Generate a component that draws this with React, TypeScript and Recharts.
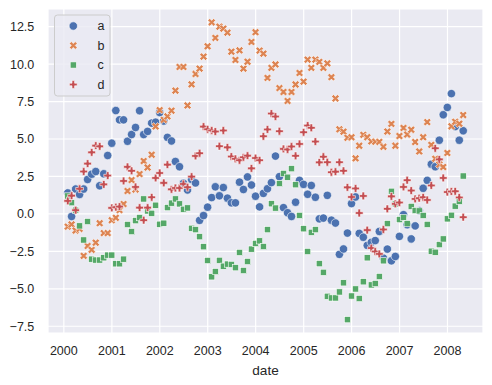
import React from 'react';
import { ScatterChart, Scatter, XAxis, YAxis, CartesianGrid } from 'recharts';

// series names (legend order)
const seriesNames = ['a', 'b', 'c', 'd'];

// monthly values (100 month-ends, Jan 2000 .. Apr 2008)
const aValues = [
  1.4, -0.17, 1.66, 1.3, 1.66, 2.3, 2.65, 2.83, 1.88, 2.68,
  3.9, 4.72, 6.9, 6.28, 6.28, 4.85, 5.3, 5.77, 6.89, 5.3,
  5.51, 6.06, 6.12, 6.77, 6.2, 5.11, 4.87, 3.5, 3.15, 2.05,
  1.6, 2.3, 2.07, -0.43, -0.11, 0.45, 1.09, 1.81, 1.21, 1.76,
  1.05, 0.74, 0.74, 2.12, 1.63, 2.47, 1.93, 1.18, 0.47, 1.37,
  1.68, 2.09, 3.86, 2.49, 0.42, 0.08, -0.17, 0.78, 2.24, 1.97,
  1.31, 1.9, 1.11, -0.33, -0.28, 1.24, -0.42, -0.61, -2.7, -2.34,
  -1.28, 0.69, 1.13, -1.3, -1.56, -2.1, -1.9, -1.78, -1.17, -2.95,
  -2.35, -3.13, -2.84, -1.5, -0.05, -0.72, -1.67, -0.8, 0.22, 1.71,
  2.24, 3.32, 3.15, 4.92, 6.62, 7.11, 8.03, 5.83, 4.92, 5.55,
];
const bValues = [
  -0.85, -0.7, -1.11, -1.0, -2.8, -2.14, -2.4, -1.92, -0.62, -1.28,
  -1.28, -0.42, -0.26, 0.25, 0.66, 1.53, 2.26, 1.63, 2.66, 3.53,
  3.1, 3.95, 5.84, 6.93, 6.28, 6.51, 6.89, 8.23, 9.81, 9.81,
  7.24, 8.65, 9.34, 9.7, 10.5, 11.19, 12.79, 11.75, 12.5, 12.37,
  12.1, 10.83, 10.28, 10.92, 9.7, 10.16, 11.48, 12.13, 10.9, 10.7,
  9.08, 9.75, 9.98, 8.4, 8.14, 7.54, 8.14, 8.64, 9.41, 8.83,
  10.3, 9.75, 10.3, 10.15, 9.75, 10.05, 9.13, 7.71, 5.65, 5.49,
  5.08, 5.12, 3.71, 4.55, 5.28, 5.12, 4.84, 4.82, 4.81, 4.48,
  5.5, 6.01, 4.55, 5.2, 5.74, 5.3, 5.62, 4.8, 4.17, 5.12,
  6.13, 4.61, 3.68, 3.3, 3.13, 4.07, 5.85, 6.15, 6.02, 6.6,
];
const cValues = [
  1.2, 0.75, 0.25, -0.8, -1.74, -0.51, -3.02, -3.08, -3.08, -2.93,
  -2.75, -2.75, -3.33, -3.33, -3.02, -0.71, -1.18, -0.45, -0.25, 1.0,
  0.2, 0.04, 0.58, -0.69, -0.62, 0.42, 0.72, 1.0, 0.67, 0.31,
  0.4, -0.96, -1.05, -1.52, -2.19, -3.11, -4.2, -3.85, -3.1, -3.49,
  -3.35, -3.37, -3.59, -2.57, -3.78, -3.18, -2.35, -1.97, -1.8, -2.18,
  -1.05, 0.68, 0.39, 2.03, 2.7, 2.45, 3.02, 1.95, -0.1, -0.99,
  -2.51, -1.23, -1.05, -3.32, -3.9, -5.5, -5.61, -5.61, -5.21, -4.6,
  -7.06, -5.48, -5.01, -5.65, -4.53, -2.93, -4.74, -4.65, -4.18, -3.13,
  -0.65, 1.51, 0.67, -0.38, -0.24, -0.65, 0.5, 0.23, 0.2, -0.1,
  -0.7, -2.49, -2.56, -2.05, -1.67, -0.33, -0.09, 0.52, 0.84, 2.53,
];
const dValues = [
  0.87, 1.22, 0.25, 1.68, 2.83, 3.36, 4.11, 4.56, 4.51, 1.97,
  2.56, 0.4, 0.45, 0.49, 2.2, 3.14, 2.88, 1.8, 0.42, -0.42,
  0.42, 1.11, 2.4, 2.73, 2.07, 3.29, 1.64, 1.73, 1.73, 2.0,
  1.78, 2.49, 3.87, 4.05, 5.83, 5.65, 5.57, 5.5, 4.52, 5.57,
  4.44, 3.83, 3.68, 3.58, 3.78, 3.89, 3.04, 3.73, 3.58, 5.18,
  5.64, 6.7, 6.5, 5.52, 4.34, 4.3, 4.5, 3.88, 4.67, 5.45,
  5.9, 5.75, 4.83, 3.44, 3.82, 3.45, 2.78, 2.82, 3.45, 2.88,
  1.77, 1.13, 1.7, 0.06, 1.2, -1.08, -2.28, -2.51, -2.67, -1.04,
  0.34, 1.17, 0.67, 0.76, 1.8, 2.25, 1.56, 1.0, 1.05, 1.11,
  0.93, 1.9, 4.38, 3.64, 2.4, 1.46, 1.5, 1.51, 1.1, -0.22,
];

// month-end dates (like pandas date_range freq="M" from 2000-01)
const dates = aValues.map((_, i) => Date.UTC(2000, i + 1, 0));
const yearLabels = [2000, 2001, 2002, 2003, 2004, 2005, 2006, 2007, 2008];
const xTicks = yearLabels.map((y) => Date.UTC(y, 0, 1));
const yTicks = [-7.5, -5, -2.5, 0, 2.5, 5, 7.5, 10, 12.5];

const COLORS = ['#4C72B0', '#DD8452', '#55A868', '#C44E52'];
const TEXT = '#262626';
const FONT = '"Liberation Sans", Arial, "DejaVu Sans", sans-serif';

const span = dates[dates.length - 1] - dates[0];
const xDomain = [dates[0] - 0.05 * span, dates[dates.length - 1] + 0.05 * span];
const yDomain = [-7.95, 13.68];

const toData = (vals: number[]) => vals.map((v, i) => ({ x: dates[i], y: v }));
const seriesData = [aValues, bValues, cValues, dValues].map(toData);

const X_BASE = [[-1, -2], [0, -1], [1, -2], [2, -1], [1, 0], [2, 1], [1, 2], [0, 1], [-1, 2], [-2, 1], [-1, 0], [-2, -1]];
const P_BASE = [[-1, -3], [1, -3], [1, -1], [3, -1], [3, 1], [1, 1], [1, 3], [-1, 3], [-1, 1], [-3, 1], [-3, -1], [-1, -1]];

const polyPath = (base: number[][], s: number, cx: number, cy: number) =>
  base.map(([px, py], k) => `${k === 0 ? 'M' : 'L'}${cx + px * s},${cy + py * s}`).join(' ') + ' Z';

function Marker({ kind, cx, cy, color }: { kind: number; cx: number; cy: number; color: string }) {
  if (cx == null || cy == null || isNaN(cx) || isNaN(cy)) return null;
  const common = { fill: color, stroke: '#ffffff', strokeWidth: 0.6 };
  if (kind === 0) return <circle cx={cx} cy={cy} r={4.2} {...common} />;
  if (kind === 1) return <path d={polyPath(X_BASE, 3.9 / 2, cx, cy)} {...common} />;
  if (kind === 2) return <rect x={cx - 3.1} y={cy - 3.1} width={6.2} height={6.2} {...common} />;
  return <path d={polyPath(P_BASE, 3.9 / 3, cx, cy)} {...common} />;
}

const fmtY = (v: number) => v.toFixed(1).replace('-', '\u2212');
const fmtX = (t: number) => String(new Date(t).getUTCFullYear());

function LegendBox() {
  const left = 54.5, top = 15, w = 55.5, h = 81;
  const rows = [26, 45.5, 65, 84.5];
  return (
    <svg width={492} height={385} style={{ position: 'absolute', left: 0, top: 0, pointerEvents: 'none' }}>
      <rect x={left} y={top} width={w} height={h} rx={3} ry={3} fill="rgba(234,234,242,0.8)" stroke="#cccccc" strokeWidth={1} />
      {seriesNames.map((name, k) => (
        <g key={name}>
          <Marker kind={k} cx={73.3} cy={rows[k]} color={COLORS[k]} />
          <text x={97.5} y={rows[k] + 4.2} fontSize={12.5} fill={TEXT} fontFamily={FONT}>{name}</text>
        </g>
      ))}
    </svg>
  );
}

export default function App() {
  return (
    <div style={{ position: 'absolute', left: 0, top: 0, width: 492, height: 385, background: '#ffffff', fontFamily: FONT }}>
      <ScatterChart width={492} height={385} margin={{ top: 9, right: 9, bottom: 0, left: 0 }}>
        <CartesianGrid stroke="#ffffff" strokeWidth={1.2} fill="#EAEAF2" fillOpacity={1} />
        <XAxis
          type="number"
          dataKey="x"
          domain={xDomain}
          ticks={xTicks}
          tickFormatter={fmtX}
          allowDataOverflow
          axisLine={false}
          tickLine={false}
          tickSize={0}
          tickMargin={13.6}
          height={52}
          tick={{ fill: TEXT, fontSize: 12.5, fontFamily: FONT }}
          label={{ value: 'date', position: 'insideBottom', offset: 10, fill: TEXT, fontSize: 13.6, fontFamily: FONT }}
        />
        <YAxis
          type="number"
          dataKey="y"
          domain={yDomain}
          ticks={yTicks}
          tickFormatter={fmtY}
          allowDataOverflow
          axisLine={false}
          tickLine={false}
          tickSize={0}
          tickMargin={13.7}
          width={48}
          tick={{ fill: TEXT, fontSize: 12.5, fontFamily: FONT }}
        />
        {seriesData.map((data, k) => (
          <Scatter
            key={seriesNames[k]}
            name={seriesNames[k]}
            data={data}
            isAnimationActive={false}
            shape={(p: any) => <Marker kind={k} cx={p.cx} cy={p.cy} color={COLORS[k]} />}
          />
        ))}
      </ScatterChart>
      <LegendBox />
    </div>
  );
}
